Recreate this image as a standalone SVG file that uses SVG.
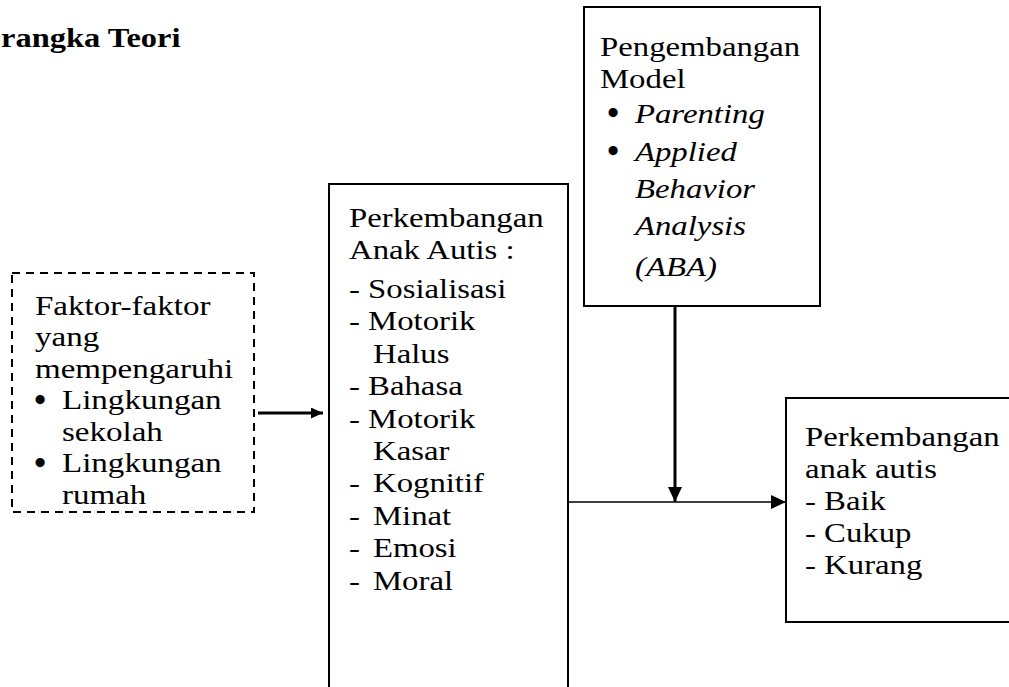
<svg xmlns="http://www.w3.org/2000/svg" width="1009" height="687" viewBox="0 0 1009 687">
<defs>
<style>
text{font-family:"Liberation Serif","Times New Roman",serif;font-size:28px;fill:#000}
.t{font-weight:bold}
.i{font-style:italic}
.b{font-size:29px;stroke:#000;stroke-width:2.2}
.box{fill:none;stroke:#000;stroke-width:2}
.dash{fill:none;stroke:#000;stroke-width:2;stroke-dasharray:8 6}
.thick{fill:none;stroke:#000;stroke-width:3}
.thin{fill:none;stroke:#000;stroke-width:1.5}
</style>
<marker id="ah" viewBox="0 0 12 11" refX="12" refY="5.5" markerWidth="12" markerHeight="11" markerUnits="userSpaceOnUse" orient="auto"><path d="M0,0L12,5.5L0,11Z" fill="#000"/></marker>
<marker id="ah2" viewBox="0 0 15 14" refX="15" refY="7" markerWidth="15" markerHeight="14" markerUnits="userSpaceOnUse" orient="auto"><path d="M0,0L15,7L0,14Z" fill="#000"/></marker>
</defs>
<rect width="1009" height="687" fill="#fff"/>
<g transform="translate(1,0) scale(1.16,1)"><text class="t" x="0" y="47">rangka Teori</text></g>

<g id="faktor">
<rect class="dash" x="12" y="273" width="242" height="239"/>
<g transform="translate(35,0) scale(1.18,1)">
<text x="0" y="315">Faktor-faktor</text>
<text x="0" y="346.5">yang</text>
<text x="0" y="378">mempengaruhi</text>
<text x="22.9" y="409.5">Lingkungan</text>
<text x="22.9" y="441">sekolah</text>
<text x="22.9" y="472.5">Lingkungan</text>
<text x="22.9" y="504">rumah</text>
</g>
<text class="b" x="35" y="410">•</text>
<text class="b" x="35" y="473">•</text>
</g>

<g id="perkembangan">
<rect class="box" x="329" y="184" width="239" height="520"/>
<g transform="translate(349,0) scale(1.17,1)">
<text x="0" y="227">Perkembangan</text>
<text x="0" y="259">Anak Autis :</text>
<text x="0" y="298">- Sosialisasi</text>
<text x="0" y="330.4">- Motorik</text>
<text x="20.5" y="362.8">Halus</text>
<text x="0" y="395.2">- Bahasa</text>
<text x="0" y="427.6">- Motorik</text>
<text x="20.5" y="460">Kasar</text>
<text x="0" y="492.4">-</text><text x="20.5" y="492.4">Kognitif</text>
<text x="0" y="524.8">-</text><text x="20.5" y="524.8">Minat</text>
<text x="0" y="557.2">-</text><text x="20.5" y="557.2">Emosi</text>
<text x="0" y="589.6">-</text><text x="20.5" y="589.6">Moral</text>
</g>
</g>

<g id="model">
<rect class="box" x="584" y="7" width="236" height="299"/>
<g transform="translate(600,0) scale(1.17,1)">
<text x="0" y="56">Pengembangan</text>
<text x="0" y="88">Model</text>
<text class="i" x="29.9" y="123">Parenting</text>
<text class="i" x="29.9" y="161">Applied</text>
<text class="i" x="29.9" y="198">Behavior</text>
<text class="i" x="29.9" y="235">Analysis</text>
<text class="i" x="29.9" y="276">(ABA)</text>
</g>
<text class="b" x="608" y="123">•</text>
<text class="b" x="608" y="161">•</text>
</g>

<g id="hasil">
<rect class="box" x="786" y="398" width="230" height="224"/>
<g transform="translate(805,0) scale(1.17,1)">
<text x="0" y="446">Perkembangan</text>
<text x="0" y="478">anak autis</text>
<text x="0" y="510">- Baik</text>
<text x="0" y="542">- Cukup</text>
<text x="0" y="574">- Kurang</text>
</g>
</g>

<g id="connectors">
<line class="thick" x1="258" y1="413" x2="323" y2="413" marker-end="url(#ah)"/>
<line class="thick" x1="675" y1="306" x2="675" y2="502" marker-end="url(#ah2)"/>
<line class="thin" x1="568" y1="502" x2="786" y2="502" marker-end="url(#ah2)"/>
</g>
</svg>
